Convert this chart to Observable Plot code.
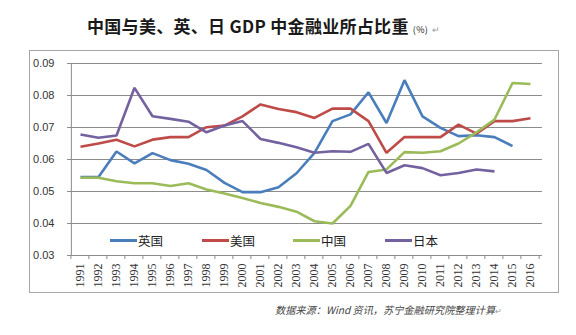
<!DOCTYPE html>
<html>
<head>
<meta charset="utf-8">
<script src="https://cdn.jsdelivr.net/npm/d3@7"></script>
<script src="https://cdn.jsdelivr.net/npm/@observablehq/plot@0.6"></script>
<style>
  html, body { margin: 0; padding: 0; background: #fff; }
  body { width: 576px; height: 335px; position: relative; overflow: hidden; font-family: "Liberation Sans", Arial, sans-serif; }
  #title { position: absolute; left: 87px; top: 13px; white-space: nowrap; font-family: "Noto Sans CJK SC", sans-serif; font-weight: 700; font-size: 17px; color: #1a1a1a; letter-spacing: 0.3px; }
  #title .unit { font-size: 9px; font-weight: 400; }
  #title .mark { font-size: 9px; font-weight: 400; color: #999; }
  #box { position: absolute; left: 29px; top: 50px; width: 528px; height: 241px; border: 1px solid #a6a6a6; }
  #chart { position: absolute; left: 0; top: 40px; }
  #legend { position: absolute; top: 231px; left: 0; width: 576px; height: 18px; font-family: "Noto Sans CJK SC", sans-serif; font-size: 12.5px; color: #222; }
  #legend .item { position: absolute; top: 0; display: flex; align-items: center; height: 18px; }
  #legend .sw { width: 27px; height: 3px; margin-right: 1px; }
  #caption { position: absolute; top: 302px; left: 275px; white-space: nowrap; font-family: "Noto Sans CJK SC", sans-serif; font-size: 10.2px; font-style: italic; color: #444; }
  #caption .mark { color: #999; font-style: normal; font-size: 8px; }
  #chart svg g[aria-label="x-axis tick label"] text { font-family: "Liberation Serif", "Times New Roman", serif; }
</style>
</head>
<body>
<div id="title">中国与美、英、日 GDP 中金融业所占比重 <span class="unit">(%)</span> <span class="mark">↵</span></div>
<div id="box"></div>
<div id="chart"></div>
<div id="legend"></div>
<div id="caption">数据来源：Wind 资讯，苏宁金融研究院整理计算<span class="mark">↵</span></div>
<script>
const years = ["1991","1992","1993","1994","1995","1996","1997","1998","1999","2000","2001","2002","2003","2004","2005","2006","2007","2008","2009","2010","2011","2012","2013","2014","2015","2016"];
const seriesNames = ["英国", "美国", "中国", "日本"];
const seriesColors = ["#4a7ebb", "#be4b48", "#9bbb59", "#7462a0"];
const uk = [0.0545,0.0545,0.0625,0.0588,0.0620,0.0598,0.0587,0.0567,0.0527,0.0498,0.0498,0.0513,0.0557,0.0621,0.0720,0.0741,0.0810,0.0714,0.0848,0.0735,0.0699,0.0673,0.0676,0.0670,0.0642,null];
const us = [0.0640,0.0650,0.0662,0.0641,0.0662,0.0670,0.0670,0.0701,0.0706,0.0735,0.0772,0.0758,0.0748,0.0730,0.0759,0.0759,0.0720,0.0621,0.0670,0.0670,0.0670,0.0709,0.0681,0.0720,0.0720,0.0729];
const cn = [0.0543,0.0543,0.0532,0.0526,0.0526,0.0517,0.0526,0.0506,0.0494,0.0480,0.0464,0.0452,0.0437,0.0407,0.0400,0.0455,0.0561,0.0569,0.0623,0.0621,0.0626,0.0650,0.0685,0.0725,0.0839,0.0836];
const jp = [0.0678,0.0668,0.0675,0.0824,0.0735,0.0727,0.0718,0.0685,0.0706,0.0720,0.0664,0.0652,0.0638,0.0621,0.0626,0.0624,0.0649,0.0558,0.0582,0.0573,0.0551,0.0558,0.0569,0.0563,null,null];
const yTicks = [0.03,0.04,0.05,0.06,0.07,0.08,0.09];

const allSeries = [uk, us, cn, jp];
const rows = [];
allSeries.forEach((vals, s) => {
  vals.forEach((v, i) => { if (v != null) rows.push({series: seriesNames[s], year: years[i], value: v}); });
});

const W = 576, H = 260, mL = 67, mR = 34, mT = 23, mB = 45;
const step = (W - mL - mR) / years.length;

const chart = Plot.plot({
  width: W, height: H,
  marginLeft: mL, marginRight: mR, marginTop: mT, marginBottom: mB,
  style: { fontFamily: "Liberation Sans, Arial, sans-serif", fontSize: "11px", color: "#333", background: "transparent" },
  x: { type: "point", domain: years, padding: 0.5, label: null },
  y: { domain: [0.03, 0.09], label: null },
  color: { domain: seriesNames, range: seriesColors },
  marks: [
    Plot.ruleY(yTicks, { stroke: "#8c8c8c", strokeWidth: 1 }),
    Plot.ruleX([years[0]], { dx: -step / 2, y1: 0.03, y2: 0.09, stroke: "#8c8c8c" }),
    Plot.line(rows, { x: "year", y: "value", z: "series", stroke: "series", strokeWidth: 2.6, strokeLinejoin: "miter", strokeLinecap: "butt" }),
    Plot.axisY({ ticks: yTicks, tickFormat: d3.format(".2f"), tickSize: 0, tickPadding: 13, fontSize: 11 }),
    Plot.axisX({ tickSize: 0, tickPadding: 8, tickRotate: -90, fontSize: 12, fill: "#333" })
  ]
});
document.getElementById("chart").appendChild(chart);

const svg = d3.select(chart);
svg.selectAll('g[aria-label="x-axis tick label"] text').style("font-family", '"Liberation Serif", "Times New Roman", serif');

// small category-boundary tick marks on the x axis
const xs = chart.scale("x");
const ys = chart.scale("y");
const y0 = ys.apply(0.03);
const bounds = years.map(y => xs.apply(y) - step / 2).concat([xs.apply(years[years.length - 1]) + step / 2]);
svg.append("g").selectAll("line").data(bounds).join("line")
  .attr("x1", d => d).attr("x2", d => d).attr("y1", y0).attr("y2", y0 + 4)
  .attr("stroke", "#8c8c8c");

const legend = document.getElementById("legend");
const legendLeft = [110, 202, 293, 385];
seriesNames.forEach((n, i) => {
  const it = document.createElement("div");
  it.className = "item";
  it.style.left = legendLeft[i] + "px";
  const sw = document.createElement("span");
  sw.className = "sw";
  sw.style.background = seriesColors[i];
  const t = document.createElement("span");
  t.textContent = n;
  it.appendChild(sw); it.appendChild(t);
  legend.appendChild(it);
});
</script>
</body>
</html>
